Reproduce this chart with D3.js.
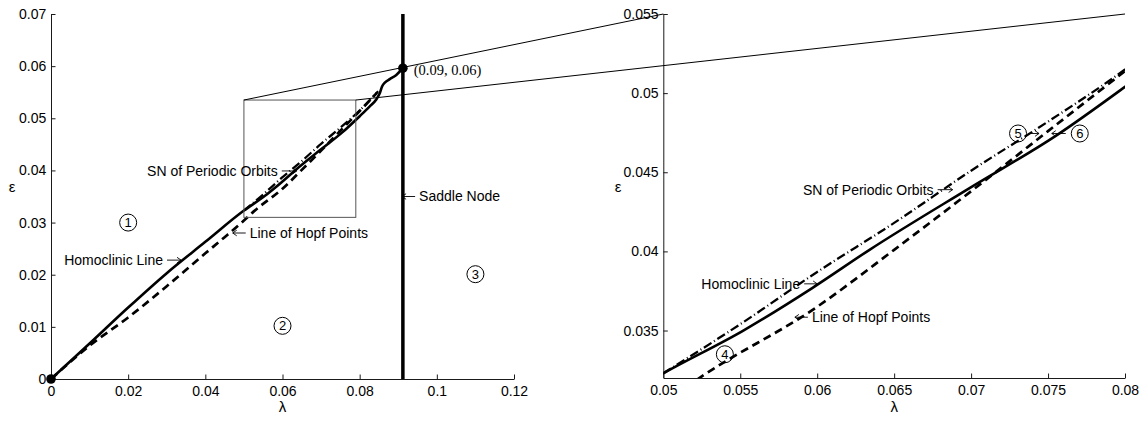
<!DOCTYPE html>
<html>
<head>
<meta charset="utf-8">
<script src="https://cdn.jsdelivr.net/npm/d3@7"></script>
<style>
  html, body { margin: 0; padding: 0; background: #fff; }
  svg { display: block; }
  text { font-family: "Liberation Sans", Arial, Helvetica, sans-serif; fill: #000; }
</style>
</head>
<body>
<svg id="chart" width="1144" height="422"></svg>
<script>
// ---------------- data ----------------
const leftXTicks = [0, 0.02, 0.04, 0.06, 0.08, 0.1, 0.12];
const leftXLabels = ["0", "0.02", "0.04", "0.06", "0.08", "0.1", "0.12"];
const leftYTicks = [0, 0.01, 0.02, 0.03, 0.04, 0.05, 0.06, 0.07];
const leftYLabels = ["0", "0.01", "0.02", "0.03", "0.04", "0.05", "0.06", "0.07"];
const rightXTicks = [0.05, 0.055, 0.06, 0.065, 0.07, 0.075, 0.08];
const rightXLabels = ["0.05", "0.055", "0.06", "0.065", "0.07", "0.075", "0.08"];
const rightYTicks = [0.035, 0.04, 0.045, 0.05, 0.055];
const rightYLabels = ["0.035", "0.04", "0.045", "0.05", "0.055"];

// Homoclinic line (solid)
const homLam = [0, 0.01, 0.02, 0.03, 0.04, 0.05, 0.0552, 0.0597, 0.0634, 0.0699, 0.0755, 0.08, 0.0825, 0.0843, 0.0852, 0.0858, 0.0866, 0.0878, 0.0895, 0.0912];
const homEps = [0, 0.0068, 0.0137, 0.0203, 0.0263, 0.0323, 0.035, 0.0377, 0.0401, 0.044, 0.0473, 0.0504, 0.0522, 0.0536, 0.0548, 0.0561, 0.0569, 0.0575, 0.0583, 0.0596];
// Line of Hopf points (dashed)
const hopfLam = [0, 0.01, 0.02, 0.03, 0.04, 0.045, 0.05, 0.0525, 0.06, 0.065, 0.07, 0.075, 0.08, 0.0845];
const hopfEps = [0, 0.0064, 0.0118, 0.0178, 0.0241, 0.0272, 0.0304, 0.0321, 0.0365, 0.0401, 0.0438, 0.0476, 0.0514, 0.0549];
// Saddle-node of periodic orbits (dash-dot)
const snLam = [0.05, 0.055, 0.06, 0.065, 0.07, 0.075, 0.08, 0.0848];
const snEps = [0.0323, 0.0354, 0.0387, 0.0418, 0.0451, 0.0482, 0.0515, 0.0552];
// Saddle node (vertical line) and special points
const saddleLam = 0.0912;
const pointLam = [0, 0.0912];
const pointEps = [0, 0.0596];
// Zoom box drawn in left panel
const boxLam = [0.05, 0.079];
const boxEps = [0.031, 0.0535];

// ---------------- setup ----------------
const svg = d3.select("#chart");
const xL = d3.scaleLinear().domain([0, 0.12]).range([51, 514]);
const yL = d3.scaleLinear().domain([0, 0.07]).range([379, 14]);
const xR = d3.scaleLinear().domain([0.05, 0.08]).range([663.3, 1125]);
const yR = d3.scaleLinear().domain([0.032, 0.055]).range([378, 14]);

const toPts = (xs, ys) => xs.map((x, i) => [x, ys[i]]);
const hom = toPts(homLam, homEps);
const hopf = toPts(hopfLam, hopfEps);
const sn = toPts(snLam, snEps);

function drawAxes(g, x, y, xt, xl, yt, yl) {
  const ax = g.append("g").attr("transform", `translate(0,${y.range()[0]})`)
    .call(d3.axisBottom(x).tickValues(xt).tickFormat((d, i) => xl[i])
      .tickSizeInner(-4.5).tickSizeOuter(0).tickPadding(7.5));
  const ay = g.append("g").attr("transform", `translate(${x.range()[0]},0)`)
    .call(d3.axisLeft(y).tickValues(yt).tickFormat((d, i) => yl[i])
      .tickSizeInner(-4.5).tickSizeOuter(0).tickPadding(4.8));
  [ax, ay].forEach(a => {
    a.selectAll("text").style("font-family", '"Liberation Sans", Arial, sans-serif')
      .style("font-size", "14px").attr("fill", "#000");
    a.selectAll("path,line").attr("stroke", "#1a1a1a").attr("stroke-width", 1);
  });
}

function drawCurves(g, x, y, clipId) {
  const line = d3.line().x(d => x(d[0])).y(d => y(d[1])).curve(d3.curveMonotoneX);
  const cg = g.append("g");
  if (clipId) cg.attr("clip-path", `url(#${clipId})`);
  cg.append("path").datum(hopf).attr("d", line).attr("fill", "none")
    .attr("stroke", "#000").attr("stroke-width", 2.7).attr("stroke-dasharray", "8,5");
  cg.append("path").datum(sn).attr("d", line).attr("fill", "none")
    .attr("stroke", "#000").attr("stroke-width", 2.3).attr("stroke-dasharray", "9,3,1,3");
  cg.append("path").datum(hom).attr("d", line).attr("fill", "none")
    .attr("stroke", "#000").attr("stroke-width", 2.6);
}

function circled(g, cx, cy, label) {
  g.append("circle").attr("cx", cx).attr("cy", cy).attr("r", 8.5)
    .attr("fill", "none").attr("stroke", "#000").attr("stroke-width", 1);
  g.append("text").attr("x", cx).attr("y", cy).attr("dy", "0.36em")
    .attr("text-anchor", "middle").style("font-size", "13px").text(label);
}

// thin arrow from tail to tip (horizontal)
function arrow(g, tipX, y, dir, len) {
  const tail = tipX - dir * len;
  g.append("path")
    .attr("d", `M${tail},${y}H${tipX}M${tipX - dir * 4},${y - 2.8}L${tipX},${y}L${tipX - dir * 4},${y + 2.8}`)
    .attr("fill", "none").attr("stroke", "#000").attr("stroke-width", 0.9);
  return tail;
}

// annotation: side "right" => text then arrow pointing right to tip; "left" => arrow pointing left then text
function note(g, tipX, y, txt, side, len) {
  len = len || 14;
  if (side === "right") {
    const tail = arrow(g, tipX, y, 1, len);
    if (txt) g.append("text").attr("x", tail - 4).attr("y", y).attr("dy", "0.35em")
      .attr("text-anchor", "end").style("font-size", "14px").text(txt);
  } else {
    const tail = arrow(g, tipX, y, -1, len);
    if (txt) g.append("text").attr("x", tail + 4).attr("y", y).attr("dy", "0.35em")
      .attr("text-anchor", "start").style("font-size", "14px").text(txt);
  }
}

// clip for right panel
svg.append("defs").append("clipPath").attr("id", "clipR").append("rect")
  .attr("x", xR.range()[0]).attr("y", yR.range()[1])
  .attr("width", xR.range()[1] - xR.range()[0]).attr("height", yR.range()[0] - yR.range()[1]);

// ---------------- left panel ----------------
const gL = svg.append("g");
drawAxes(gL, xL, yL, leftXTicks, leftXLabels, leftYTicks, leftYLabels);
drawCurves(gL, xL, yL, null);
gL.append("line").attr("x1", xL(saddleLam)).attr("x2", xL(saddleLam))
  .attr("y1", yL(0)).attr("y2", yL(0.07)).attr("stroke", "#000").attr("stroke-width", 3.5);
gL.selectAll("circle.pt").data(pointLam).enter().append("circle").attr("class", "pt")
  .attr("cx", d => xL(d)).attr("cy", (d, i) => yL(pointEps[i])).attr("r", 4.8).attr("fill", "#000");
gL.append("rect").attr("x", xL(boxLam[0])).attr("y", yL(boxEps[1]))
  .attr("width", xL(boxLam[1]) - xL(boxLam[0])).attr("height", yL(boxEps[0]) - yL(boxEps[1]))
  .attr("fill", "none").attr("stroke", "#555").attr("stroke-width", 1);

gL.append("text").attr("x", 12).attr("y", 187).attr("dy", "0.35em").attr("text-anchor", "middle")
  .style("font-size", "15px").text("ε");
gL.append("text").attr("x", (xL.range()[0] + xL.range()[1]) / 2).attr("y", 407).attr("dy", "0.35em")
  .attr("text-anchor", "middle").style("font-size", "15px").text("λ");

note(gL, xL(0.0637), yL(0.0399), "SN of Periodic Orbits", "right", 15);
note(gL, xL(0.0337), yL(0.0228), "Homoclinic Line", "right", 14);
note(gL, xL(0.0471), yL(0.0280), "Line of Hopf Points", "left", 13);
note(gL, xL(0.0910), yL(0.035), "Saddle Node", "left", 13);
gL.append("text").attr("x", xL(0.094)).attr("y", yL(0.0593)).attr("dy", "0.33em")
  .style("font-family", '"Liberation Serif", "Times New Roman", serif').style("font-size", "14.5px")
  .text("(0.09, 0.06)");
circled(gL, xL(0.02), yL(0.03), "1");
circled(gL, xL(0.06), yL(0.0102), "2");
circled(gL, xL(0.11), yL(0.0201), "3");

// ---------------- right panel ----------------
const gR = svg.append("g");
drawAxes(gR, xR, yR, rightXTicks, rightXLabels, rightYTicks, rightYLabels);
drawCurves(gR, xR, yR, "clipR");
gR.append("text").attr("x", 618).attr("y", 187).attr("dy", "0.35em").attr("text-anchor", "middle")
  .style("font-size", "15px").text("ε");
gR.append("text").attr("x", (xR.range()[0] + xR.range()[1]) / 2).attr("y", 407).attr("dy", "0.35em")
  .attr("text-anchor", "middle").style("font-size", "15px").text("λ");

note(gR, xR(0.0688), yR(0.0439), "SN of Periodic Orbits", "right", 15);
note(gR, xR(0.0600), yR(0.03795), "Homoclinic Line", "right", 13);
note(gR, xR(0.05855), yR(0.03584), "Line of Hopf Points", "left", 13);
circled(gR, xR(0.054), yR(0.0335), "4");
circled(gR, xR(0.07305), yR(0.04745), "5");
note(gR, xR(0.07305) + 21, yR(0.04745), "", "right", 11);
circled(gR, xR(0.07706), yR(0.04745), "6");
note(gR, xR(0.07706) - 28, yR(0.04745), "", "left", 14);

// ---------------- zoom connector lines ----------------
const conn = svg.append("g").attr("stroke", "#000").attr("stroke-width", 1);
conn.append("line").attr("x1", xL(boxLam[0])).attr("y1", yL(boxEps[1]))
  .attr("x2", xR.range()[0]).attr("y2", yR.range()[1]);
conn.append("line").attr("x1", xL(boxLam[1])).attr("y1", yL(boxEps[1]))
  .attr("x2", xR.range()[1]).attr("y2", yR.range()[1]);
</script>
</body>
</html>
